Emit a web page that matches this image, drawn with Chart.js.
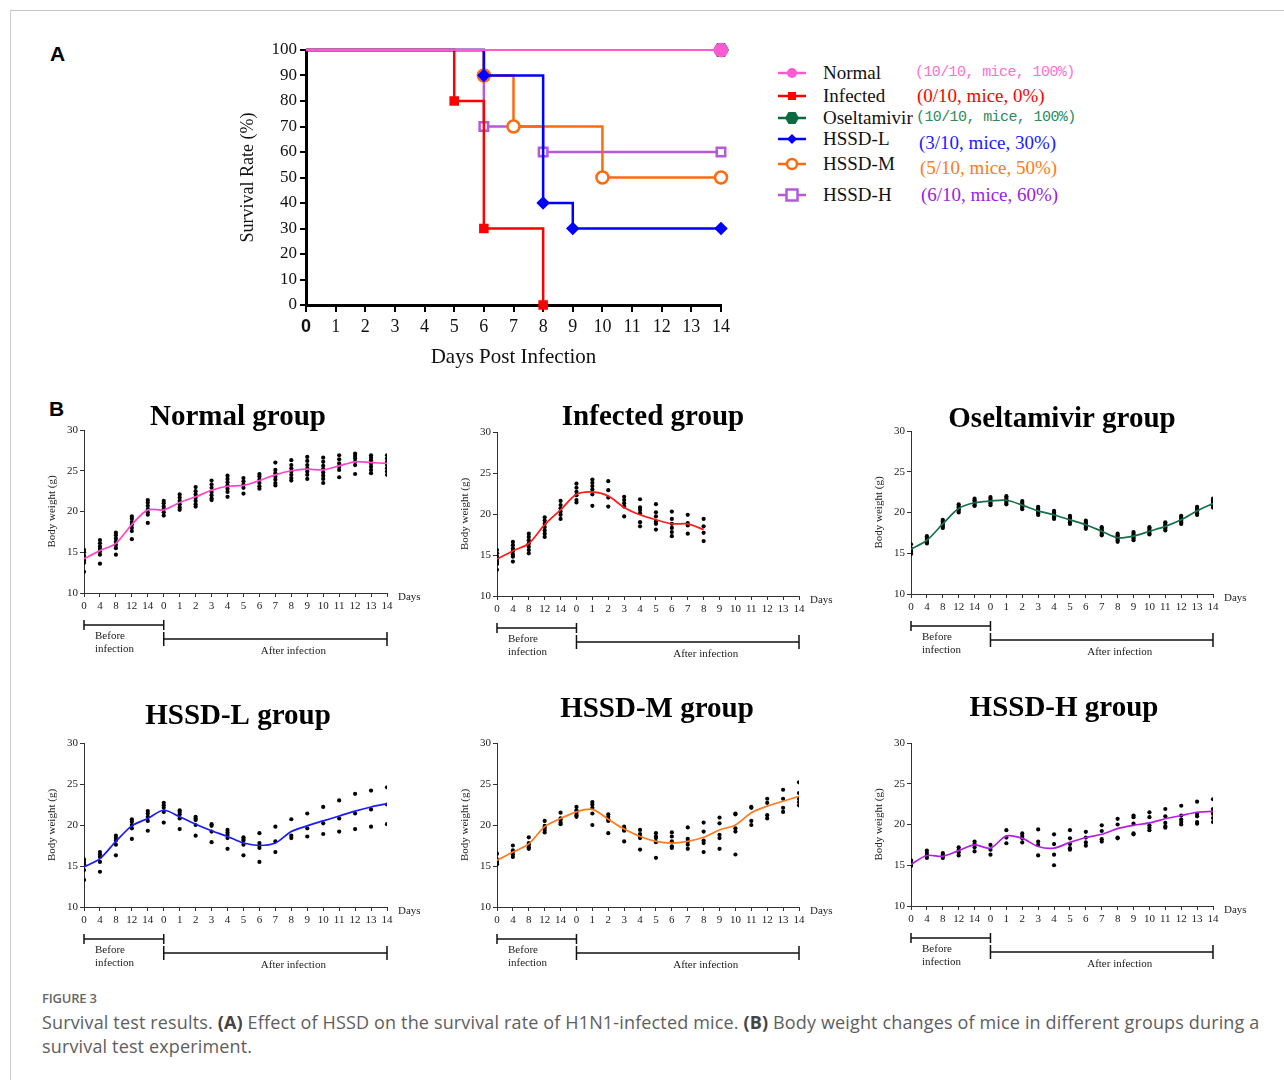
<!DOCTYPE html>
<html>
<head>
<meta charset="utf-8">
<title>Figure 3</title>
<script src="https://cdn.jsdelivr.net/npm/chart.js@4.4.1/dist/chart.umd.min.js"></script>
<style>
  body { margin: 0; background: #fff; }
  #page { position: relative; width: 1284px; height: 1080px; overflow: hidden; background: #fff; }
  #frame { position: absolute; left: 10px; top: 10px; right: 0; bottom: 0; border-left: 1px solid #cfcfcf; border-top: 1px solid #c4c4c4; }
  .abs { position: absolute; }
  .panel-letter { font-family: 'Liberation Sans', Arial, sans-serif; font-weight: bold; font-size: 21px; color: #000; }
  .leg-name { font-family: 'Liberation Serif', serif; font-size: 19px; color: #111; line-height: 22px; white-space: nowrap; }
  .leg-count { font-family: 'Liberation Serif', serif; font-size: 19px; line-height: 22px; white-space: nowrap; }
  .leg-mono { font-family: 'Liberation Mono', monospace; font-size: 15px; letter-spacing: -0.6px; line-height: 22px; white-space: nowrap; }
  #figlabel { left: 42px; top: 989px; font-family: 'Open Sans', sans-serif; font-size: 13px; font-weight: 600; color: #666; letter-spacing: -0.2px; }
  #caption { left: 42px; top: 1010px; font-family: 'Open Sans', sans-serif; font-size: 18px; color: #5e5e5e; line-height: 24px; white-space: nowrap; letter-spacing: 0.15px; }
  #caption b { color: #444; font-weight: 700; }
</style>
</head>
<body>
<div id="page">
  <div id="frame"></div>
  <div class="abs panel-letter" style="left:50px; top:42px;">A</div>
  <div class="abs panel-letter" style="left:49px; top:397px;">B</div>

  <canvas id="survival" class="abs" width="507" height="344" style="left:233px; top:30px;"></canvas>

  <!-- legend of panel A -->
  <svg class="abs" style="left:776px; top:60px;" width="34" height="150">
    <line x1="2" y1="13" x2="30" y2="13" stroke="#ff5ad2" stroke-width="2.5"/>
    <circle cx="16" cy="13" r="5" fill="#ff5ad2"/>
    <line x1="2" y1="36" x2="30" y2="36" stroke="#ff0000" stroke-width="2.5"/>
    <rect x="12" y="32" width="8" height="8" fill="#ff0000"/>
    <line x1="2" y1="58" x2="30" y2="58" stroke="#0b6a40" stroke-width="2.5"/>
    <polygon points="9,58 12.5,52 19.5,52 23,58 19.5,64 12.5,64" fill="#0b6a40"/>
    <line x1="2" y1="79" x2="30" y2="79" stroke="#0000ff" stroke-width="2.5"/>
    <polygon points="16,74 21,79 16,84 11,79" fill="#0000ff"/>
    <line x1="2" y1="104" x2="30" y2="104" stroke="#ff6a10" stroke-width="2.5"/>
    <circle cx="16" cy="104" r="5" fill="#fff" stroke="#ff6a10" stroke-width="2.5"/>
    <line x1="2" y1="135" x2="30" y2="135" stroke="#b45ad8" stroke-width="2.5"/>
    <rect x="10.5" y="129.5" width="11" height="11" fill="#fff" stroke="#b45ad8" stroke-width="2.5"/>
  </svg>
  <div class="abs leg-name" style="left:823px; top:62px;">Normal</div>
  <div class="abs leg-name" style="left:823px; top:85px;">Infected</div>
  <div class="abs leg-name" style="left:823px; top:107px;">Oseltamivir</div>
  <div class="abs leg-name" style="left:823px; top:128px;">HSSD-L</div>
  <div class="abs leg-name" style="left:823px; top:153px;">HSSD-M</div>
  <div class="abs leg-name" style="left:823px; top:184px;">HSSD-H</div>
  <div class="abs leg-mono" style="left:915px; top:62px; color:#ff70d4;">(10/10, mice, 100%)</div>
  <div class="abs leg-count" style="left:917px; top:85px; color:#ff0000;">(0/10, mice, 0%)</div>
  <div class="abs leg-mono" style="left:916px; top:107px; color:#2e8a60;">(10/10, mice, 100%)</div>
  <div class="abs leg-count" style="left:919px; top:132px; color:#1a1aff;">(3/10, mice, 30%)</div>
  <div class="abs leg-count" style="left:920px; top:157px; color:#ff7a20;">(5/10, mice, 50%)</div>
  <div class="abs leg-count" style="left:921px; top:184px; color:#9a22dc;">(6/10, mice, 60%)</div>

  <canvas id="cNormal" class="abs"></canvas>
  <canvas id="cInfected" class="abs"></canvas>
  <canvas id="cOsel" class="abs"></canvas>
  <canvas id="cLow" class="abs"></canvas>
  <canvas id="cMid" class="abs"></canvas>
  <canvas id="cHigh" class="abs"></canvas>

  <div id="figlabel" class="abs">FIGURE 3</div>
  <div id="caption" class="abs">Survival test results. <b>(A)</b> Effect of HSSD on the survival rate of H1N1-infected mice. <b>(B)</b> Body weight changes of mice in different groups during a<br>survival test experiment.</div>
</div>

<script>
// ---------- Panel A: survival (Kaplan-Meier steps) ----------
const survTicksX = [0, 14];
const normalDays = [0, 14];
const normalRate = [100, 100];
const infectedDays = [0, 5, 6, 8];
const infectedRate = [100, 80, 30, 0];
const oselDays = [0, 14];
const oselRate = [100, 100];
const lowDays = [0, 6, 8, 9, 14];
const lowRate = [100, 90, 40, 30, 30];
const midDays = [0, 6, 7, 10, 14];
const midRate = [100, 90, 70, 50, 50];
const highDays = [0, 6, 8, 14];
const highRate = [100, 70, 60, 60];

// ---------- Panel B: body weight ----------
const dayLabels = ['0', '4', '8', '12', '14', '0', '1', '2', '3', '4', '5', '6', '7', '8', '9', '10', '11', '12', '13', '14'];

const normalMean = [14.2, 15.2, 16.1, 18.4, 20.2, 20.2, 21.1, 21.8, 22.6, 23.1, 23.2, 23.8, 24.5, 25.0, 25.2, 25.1, 25.6, 26.1, 26.0, 25.9];
const normalDots = [
  [15.3, 15.0, 14.6, 14.3, 14.0, 13.7, 12.6],
  [16.5, 16.1, 15.7, 15.4, 15.1, 14.7, 13.6],
  [17.4, 17.1, 16.7, 16.3, 15.9, 15.5, 14.7],
  [19.4, 19.1, 18.7, 18.4, 18.0, 17.6, 16.6],
  [21.4, 21.1, 20.7, 20.3, 19.9, 19.6, 18.6],
  [21.3, 21.0, 20.6, 20.3, 19.9, 19.5],
  [22.1, 21.7, 21.3, 20.9, 20.5, 20.2],
  [23.0, 22.5, 22.1, 21.7, 21.3, 20.9, 20.6],
  [23.8, 23.3, 22.9, 22.4, 22.0, 21.6, 21.4],
  [24.4, 24.0, 23.6, 23.2, 22.8, 22.4, 21.8],
  [24.1, 23.7, 23.3, 22.9, 22.2],
  [24.6, 24.3, 23.9, 23.5, 23.1, 22.8],
  [26.0, 25.1, 24.7, 24.3, 23.9, 23.5, 23.2],
  [26.3, 25.7, 25.3, 24.9, 24.5, 24.1, 23.8],
  [26.7, 26.2, 25.7, 25.3, 24.9, 24.5, 24.0],
  [26.6, 26.1, 25.6, 25.2, 24.8, 24.4, 24.0, 23.5],
  [26.9, 26.4, 25.9, 25.5, 25.1, 24.2],
  [27.1, 26.8, 26.5, 26.1, 25.7, 24.6],
  [26.9, 26.6, 26.3, 25.9, 25.5, 25.1, 24.7],
  [26.9, 26.5, 26.1, 25.7, 25.3, 24.9, 24.5]
];

const infectedMean = [14.5, 15.5, 16.4, 18.7, 20.5, 22.4, 22.7, 22.2, 20.8, 19.9, 19.3, 18.8, 18.8, 18.1];
const infectedDots = [
  [15.6, 15.2, 14.8, 14.5, 14.2, 13.9, 13.2],
  [16.6, 16.2, 15.8, 15.5, 15.1, 14.8, 14.2],
  [17.6, 17.2, 16.8, 16.4, 16.0, 15.6, 15.2],
  [19.6, 19.2, 18.8, 18.4, 18.0, 17.6, 17.2],
  [21.6, 21.1, 20.7, 20.3, 19.9, 19.4],
  [23.7, 23.2, 22.7, 22.3, 21.7, 21.4],
  [24.2, 23.8, 23.4, 23.0, 22.4, 21.0],
  [24.0, 22.9, 22.0, 20.9],
  [22.1, 21.7, 21.3, 20.9, 19.7],
  [21.8, 20.8, 20.5, 20.1, 19.0, 18.5],
  [21.2, 20.2, 19.7, 19.1, 18.8, 18.1],
  [20.3, 19.4, 18.8, 18.3, 17.8, 17.3],
  [19.9, 18.9, 18.6, 17.6],
  [19.4, 18.5, 17.7, 16.7]
];

const oselMean = [15.5, 16.6, 18.6, 20.5, 21.2, 21.4, 21.5, 20.9, 20.2, 19.7, 19.1, 18.5, 17.7, 16.9, 17.1, 17.7, 18.3, 19.1, 20.2, 21.1];
const oselDots = [
  [16.1, 15.6, 15.4, 15.2, 15.0, 14.9],
  [17.1, 16.9, 16.7, 16.5, 16.3, 16.2],
  [19.1, 18.9, 18.7, 18.5, 18.3, 18.1],
  [21.0, 20.8, 20.6, 20.4, 20.2, 20.0],
  [21.7, 21.5, 21.3, 21.1, 20.9, 20.8],
  [21.9, 21.7, 21.5, 21.3, 21.1, 20.9],
  [22.0, 21.8, 21.6, 21.4, 21.2, 21.0],
  [21.4, 21.2, 21.0, 20.8, 20.6, 20.4],
  [20.7, 20.5, 20.3, 20.1, 19.9, 19.7],
  [20.2, 20.0, 19.8, 19.6, 19.4, 19.2],
  [19.6, 19.4, 19.2, 19.0, 18.8, 18.6],
  [19.0, 18.8, 18.6, 18.4, 18.2, 18.0],
  [18.2, 18.0, 17.8, 17.6, 17.4, 17.2],
  [17.4, 17.2, 17.0, 16.8, 16.6, 16.4],
  [17.6, 17.4, 17.2, 17.0, 16.8, 16.6],
  [18.2, 18.0, 17.8, 17.6, 17.4, 17.3],
  [18.8, 18.6, 18.4, 18.2, 18.0, 17.8],
  [19.6, 19.4, 19.2, 19.0, 18.8, 18.6],
  [20.7, 20.5, 20.3, 20.1, 19.9, 19.7],
  [21.7, 21.5, 21.3, 21.1, 20.9, 20.6]
];

const lowMean = [14.9, 15.9, 18.0, 19.9, 20.8, 21.8, 21.0, 20.1, 19.3, 18.6, 17.8, 17.5, 17.8, 19.2, 19.9, 20.5, 21.1, 21.7, 22.2, 22.6];
const lowDots = [
  [15.8, 15.5, 15.2, 14.5, 13.3],
  [16.7, 16.4, 16.1, 15.5, 14.3],
  [18.7, 18.4, 18.1, 17.6, 16.3],
  [20.7, 20.4, 20.0, 19.6, 18.3],
  [21.7, 21.4, 21.0, 20.5, 19.3],
  [22.7, 22.4, 22.1, 21.6, 20.3],
  [21.8, 21.6, 21.3, 20.8, 19.5],
  [21.0, 20.8, 20.6, 20.0, 18.7],
  [20.1, 19.9, 19.2, 17.9],
  [19.4, 19.1, 18.8, 18.4, 17.1],
  [18.5, 18.3, 18.1, 17.6, 16.3],
  [19.0, 17.8, 17.5, 17.2, 15.5],
  [19.8, 18.0, 16.7],
  [20.7, 18.7, 18.4],
  [21.4, 19.6, 18.6],
  [22.2, 20.2, 18.9],
  [23.0, 20.8, 19.2],
  [23.8, 21.4, 19.5],
  [24.2, 21.9, 19.8],
  [24.6, 22.5, 20.1]
];

const midMean = [15.7, 16.7, 17.7, 19.8, 20.8, 21.6, 21.9, 20.7, 19.5, 18.6, 18.0, 17.8, 18.0, 18.5, 19.4, 20.0, 21.5, 22.3, 22.9, 23.5];
const midDots = [
  [16.5, 15.8, 15.6, 15.4, 15.2],
  [17.5, 16.9, 16.7, 16.4, 16.1],
  [18.5, 17.8, 17.6, 17.3, 17.1],
  [20.5, 19.9, 19.7, 19.4, 19.1],
  [21.5, 20.8, 20.6, 20.3, 20.1],
  [22.2, 21.8, 21.5, 21.2, 21.0],
  [22.8, 22.5, 22.1, 21.4, 20.0],
  [21.3, 21.0, 20.7, 20.5, 19.0],
  [19.8, 19.6, 19.4, 19.3, 18.0],
  [19.4, 18.9, 18.6, 18.4, 17.0],
  [19.0, 18.6, 18.4, 17.9, 16.0],
  [19.1, 18.6, 18.0, 17.4, 17.2],
  [19.7, 18.3, 18.0, 17.6, 17.1],
  [20.3, 19.2, 18.1, 17.8, 16.7],
  [20.9, 20.2, 18.8, 18.4, 17.1],
  [21.4, 21.3, 19.6, 19.2, 16.4],
  [22.2, 22.1, 20.5, 20.0],
  [23.2, 22.7, 21.2, 20.8],
  [24.3, 23.2, 22.1, 21.6],
  [25.2, 23.9, 23.2, 22.8, 22.4]
];

const highMean = [15.1, 16.2, 16.1, 16.8, 17.5, 17.1, 18.6, 18.3, 17.3, 17.1, 17.8, 18.4, 18.8, 19.5, 19.9, 20.2, 20.7, 21.1, 21.5, 21.6];
const highDots = [
  [15.6, 15.3, 15.1, 14.9],
  [16.8, 16.5, 16.2, 15.9],
  [16.5, 16.3, 16.1, 15.9],
  [17.2, 16.9, 16.6, 16.2],
  [17.9, 17.6, 17.2, 16.7],
  [17.5, 16.9, 16.3],
  [19.3, 18.4, 17.7],
  [18.9, 18.6, 18.3, 17.8],
  [19.4, 17.9, 17.5, 16.2],
  [18.8, 17.6, 16.3, 15.0],
  [19.3, 18.3, 17.6, 17.1, 16.9],
  [19.1, 18.4, 17.8, 17.4],
  [19.9, 19.2, 18.2, 17.9],
  [20.7, 20.0, 18.4, 18.3],
  [21.1, 20.9, 20.1, 18.9, 18.8],
  [21.5, 20.9, 19.9, 19.6, 19.3],
  [21.9, 21.0, 20.2, 19.8, 19.6],
  [22.3, 21.1, 20.6, 20.3, 20.0],
  [22.8, 21.3, 21.0, 20.3, 20.1],
  [23.1, 21.9, 21.6, 21.3, 20.8, 20.3]
];

Chart.defaults.font.family = "'Liberation Serif', 'Times New Roman', serif";
Chart.defaults.color = '#222';

// Small hexagon used as the Oseltamivir marker
function hexagonMarker(color, r) {
  const c = document.createElement('canvas');
  c.width = c.height = r * 2 + 2;
  const g = c.getContext('2d');
  g.fillStyle = color;
  g.beginPath();
  for (let k = 0; k < 6; k++) {
    const a = Math.PI / 3 * k;
    const px = r + 1 + r * Math.cos(a), py = r + 1 + r * Math.sin(a);
    if (k === 0) g.moveTo(px, py); else g.lineTo(px, py);
  }
  g.closePath();
  g.fill();
  return c;
}

function survSet(days, rates, color, style, radius, fill, width, order) {
  return {
    data: days.map((d, i) => ({ x: d, y: rates[i] })),
    borderColor: color,
    borderWidth: width,
    stepped: 'before',
    pointStyle: style,
    pointRadius: ctx => ctx.dataIndex === 0 ? 0 : radius,
    pointHoverRadius: 0,
    pointBackgroundColor: fill,
    pointBorderColor: color,
    pointBorderWidth: 2.5,
    clip: false,
    order: order
  };
}

new Chart(document.getElementById('survival'), {
  type: 'line',
  data: {
    datasets: [
      survSet(normalDays, normalRate, '#ff5ad2', 'circle', 6, '#ff5ad2', 2.2, 0),
      survSet(oselDays, oselRate, '#0b6a40', hexagonMarker('#0b6a40', 8), 8, '#0b6a40', 1.5, 1),
      survSet(lowDays, lowRate, '#0000ff', 'rectRot', 5, '#0000ff', 2.5, 2),
      survSet(infectedDays, infectedRate, '#ff0000', 'rect', 5, '#ff0000', 2.5, 3),
      survSet(midDays, midRate, '#ff6a10', 'circle', 6, '#ffffff', 2.5, 4),
      survSet(highDays, highRate, '#b45ad8', 'rect', 6, '#ffffff', 2.5, 5)
    ]
  },
  options: {
    responsive: false,
    animation: false,
    devicePixelRatio: 1,
    layout: { padding: { top: 20, right: 19, left: 0, bottom: 0 } },
    plugins: { legend: { display: false }, tooltip: { enabled: false } },
    scales: {
      x: {
        type: 'linear', min: survTicksX[0], max: survTicksX[1],
        afterFit: s => { s.height = 69; },
        border: { color: '#000', width: 3 },
        grid: { drawOnChartArea: false, color: '#000', lineWidth: 2, tickLength: 7 },
        ticks: {
          stepSize: 1, padding: 4, color: '#111',
          font: c => (c.tick && c.tick.value === 0)
            ? { family: "'Liberation Sans', Arial, sans-serif", size: 18, weight: 'bold' }
            : { size: 18 }
        },
        title: { display: true, text: 'Days Post Infection', font: { size: 21 }, color: '#111' }
      },
      y: {
        min: 0, max: 100,
        afterFit: s => { s.width = 73; },
        border: { color: '#000', width: 3 },
        grid: { drawOnChartArea: false, color: '#000', lineWidth: 2, tickLength: 6 },
        ticks: { stepSize: 10, padding: 3, font: { size: 17 }, color: '#111' },
        title: { display: true, text: 'Survival Rate (%)', font: { size: 18 }, color: '#111' }
      }
    }
  }
});

// ---------- Panel B charts ----------
const panels = [
  { id: 'cNormal', title: 'Normal group', mean: normalMean, dots: normalDots, color: '#ff46c8', x0: 84, x1: 387, y30: 430, y10: 593, tx: 238, ty: 418 },
  { id: 'cInfected', title: 'Infected group', mean: infectedMean, dots: infectedDots, color: '#ff1a1a', x0: 497, x1: 799, y30: 432, y10: 596, tx: 653, ty: 418 },
  { id: 'cOsel', title: 'Oseltamivir group', mean: oselMean, dots: oselDots, color: '#17704a', x0: 911, x1: 1213, y30: 431, y10: 594, tx: 1062, ty: 420 },
  { id: 'cLow', title: 'HSSD-L group', mean: lowMean, dots: lowDots, color: '#1a1aff', x0: 84, x1: 387, y30: 743, y10: 907, tx: 238, ty: 717 },
  { id: 'cMid', title: 'HSSD-M group', mean: midMean, dots: midDots, color: '#ff7a1a', x0: 497, x1: 799, y30: 743, y10: 907, tx: 657, ty: 710 },
  { id: 'cHigh', title: 'HSSD-H group', mean: highMean, dots: highDots, color: '#b41ee6', x0: 911, x1: 1213, y30: 743, y10: 906, tx: 1064, ty: 709 }
];

function dotPoints(dots) {
  const pts = [];
  dots.forEach((vals, i) => vals.forEach(v => pts.push({ x: i, y: v })));
  return pts;
}

// Title, "Days" label and the before/after brackets under the axis
function decorPlugin(p, left, top) {
  return {
    id: 'decor',
    afterDraw(chart) {
      const ctx = chart.ctx, xs = chart.scales.x, area = chart.chartArea;
      ctx.save();
      ctx.fillStyle = '#000';
      ctx.textAlign = 'center';
      ctx.textBaseline = 'middle';
      ctx.font = "bold 29px 'Liberation Serif'";
      ctx.fillText(p.title, p.tx - left, p.ty - top);

      ctx.font = "11px 'Liberation Serif'";
      ctx.fillStyle = '#222';
      ctx.textAlign = 'left';
      ctx.fillText('Days', area.right + 11, area.bottom + 4);

      const a = xs.getPixelForValue(0), b = xs.getPixelForValue(5), c = xs.getPixelForValue(19);
      const y1 = area.bottom + 32, y2 = area.bottom + 46;
      ctx.strokeStyle = '#111';
      ctx.lineWidth = 1.5;
      ctx.beginPath();
      ctx.moveTo(a, y1); ctx.lineTo(b, y1);
      ctx.moveTo(a, y1 - 5); ctx.lineTo(a, y1 + 5);
      ctx.moveTo(b, y1 - 5); ctx.lineTo(b, y1 + 5);
      ctx.moveTo(b, y2); ctx.lineTo(c, y2);
      ctx.moveTo(b, y2 - 7); ctx.lineTo(b, y2 + 7);
      ctx.moveTo(c, y2 - 7); ctx.lineTo(c, y2 + 7);
      ctx.stroke();

      ctx.fillText('Before', a + 11, y1 + 11);
      ctx.fillText('infection', a + 11, y1 + 24);
      ctx.textAlign = 'center';
      ctx.fillText('After infection', (b + c) / 2 + 18, y2 + 12);
      ctx.restore();
    }
  };
}

panels.forEach(p => {
  const left = p.x0 - 42, top = p.ty - 30;
  const width = (p.x1 - p.x0) + 42 + 45;
  const height = (p.y10 - top) + 66;
  const cv = document.getElementById(p.id);
  cv.width = width; cv.height = height;
  cv.style.left = left + 'px'; cv.style.top = top + 'px';

  new Chart(cv, {
    type: 'line',
    data: {
      datasets: [
        {
          data: p.mean.map((v, i) => ({ x: i, y: v })),
          borderColor: p.color, borderWidth: 1.7, tension: 0.3,
          pointRadius: 0, pointHoverRadius: 0, order: 0
        },
        {
          data: dotPoints(p.dots), showLine: false,
          pointRadius: 2.1, pointHoverRadius: 0, pointBackgroundColor: '#000', pointBorderWidth: 0,
          order: 1
        }
      ]
    },
    options: {
      responsive: false,
      animation: false,
      devicePixelRatio: 1,
      layout: { padding: { top: p.y30 - top, right: width - (p.x1 - left), left: 0, bottom: 0 } },
      plugins: { legend: { display: false }, tooltip: { enabled: false } },
      scales: {
        x: {
          type: 'linear', min: 0, max: dayLabels.length - 1,
          afterFit: s => { s.height = height - (p.y10 - top); },
          border: { color: '#333', width: 1 },
          grid: { drawOnChartArea: false, color: '#333', lineWidth: 1, tickLength: 4 },
          ticks: {
            stepSize: 1, autoSkip: false, maxRotation: 0, padding: 3,
            font: { size: 11 }, color: '#222',
            callback: v => dayLabels[v]
          }
        },
        y: {
          min: 10, max: 30,
          afterFit: s => { s.width = 42; },
          border: { color: '#333', width: 1 },
          grid: { drawOnChartArea: false, color: '#333', lineWidth: 1, tickLength: 4 },
          ticks: { stepSize: 5, padding: 2, font: { size: 11 }, color: '#222' },
          title: { display: true, text: 'Body weight (g)', font: { size: 11 }, color: '#222' }
        }
      }
    },
    plugins: [decorPlugin(p, left, top)]
  });
});
</script>
</body>
</html>
